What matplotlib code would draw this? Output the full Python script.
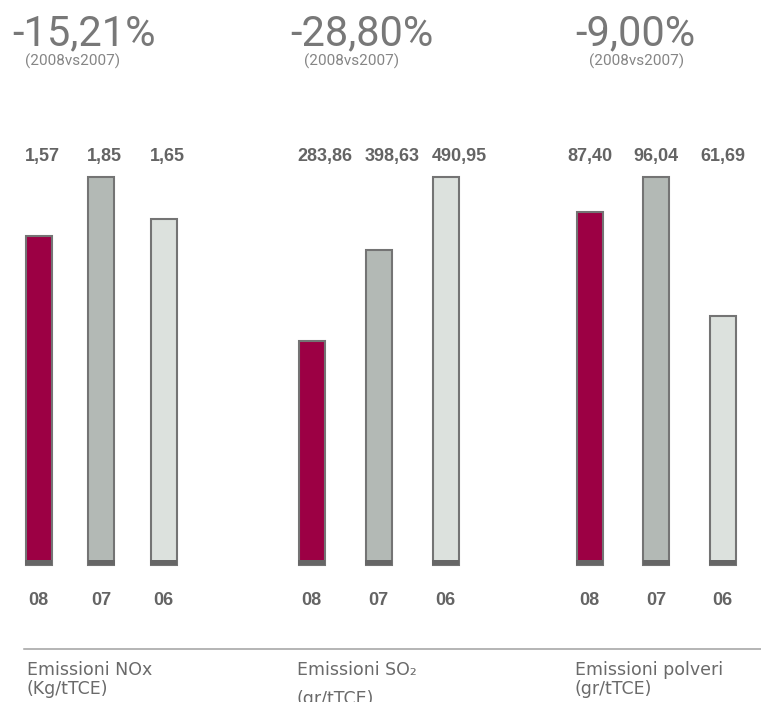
import matplotlib.pyplot as plt
from matplotlib.lines import Line2D
import matplotlib.transforms as mtransforms

years = ['08', '07', '06']
nox = [1.57, 1.85, 1.65]
so2 = [283.86, 398.63, 490.95]
polveri = [87.40, 96.04, 61.69]
changes = ['-15,21%', '-28,80%', '-9,00%']
period = '(2008vs2007)'
titles = ['Emissioni NOx', 'Emissioni SO₂', 'Emissioni polveri']
units = ['(Kg/tTCE)', '(gr/tTCE)', '(gr/tTCE)']

W, H = 761, 702
fig = plt.figure(figsize=(W / 100, H / 100), dpi=100)

bar_colors = ['#9c0044', '#b3b9b5', '#dce1dd']
edge = '#747474'
text_gray = '#646464'


def px(x, y):
    return x / W, 1 - y / H


# panel layout in pixels: left of first bar slot, slot spacing
panels = [(7.5, 62.5), (278, 67), (556.5, 66.5)]
label_ha = ['left', 'left', 'center']
base_y, top_y = 565, 177
unit_y = [694, 704, 694]
bar_w = 26

for i, values in enumerate([nox, so2, polveri]):
    left, step = panels[i]
    ax = fig.add_axes([left / W, 1 - base_y / H, 3 * step / W, (base_y - top_y) / H])
    ax.set_xlim(-0.5, 2.5)
    vmax = max(values)
    ax.set_ylim(0, vmax)
    ax.axis('off')
    xs = range(len(values))
    w = bar_w / step
    ax.bar(xs, values, width=w, color=bar_colors,
           edgecolor=edge, linewidth=1.5, clip_on=False)
    # dark foot under each bar
    foot = vmax * 5 / (base_y - top_y)
    ax.bar(xs, [foot] * 3, width=w + 0.01, color='#666666',
           linewidth=0, clip_on=False)

    trans = mtransforms.blended_transform_factory(ax.transData, ax.transAxes)
    span = base_y - top_y
    for x, v, yr in zip(xs, values, years):
        lx = x - w / 2 - 1 / step if label_ha[i] == 'left' else x
        ax.text(lx, 1 + (top_y - 160.5) / span, f'{v:.2f}'.replace('.', ','),
                transform=trans, ha=label_ha[i], va='baseline',
                fontsize=13, fontweight='bold', color=text_gray,
                family='Liberation Sans')
        ax.text(x, -(605 - base_y) / span, yr, transform=trans,
                ha='center', va='baseline', fontsize=13, fontweight='bold',
                color=text_gray, family='Liberation Sans')

# headers
head_x = [12, 290, 575]
sub_x = [25, 304, 589]
for hx, sx, c in zip(head_x, sub_x, changes):
    fig.text(*px(hx, 45), c, fontsize=30, family='Roboto', fontweight='normal',
             color='#787878', va='baseline')
    fig.text(*px(sx, 65.5), period, fontsize=11, family='Roboto',
             color='#858585', va='baseline')

# bottom rule and captions
fig.add_artist(Line2D([24 / W, 1], [1 - 649 / H] * 2, color='#a0a0a0', lw=1.1))
cap_x = [27, 297, 575]
for cx, t, u, uy in zip(cap_x, titles, units, unit_y):
    fig.text(*px(cx, 675), t, fontsize=12.5, family='DejaVu Sans',
             color='#6a6a6a', va='baseline')
    fig.text(*px(cx, uy), u, fontsize=12.5, family='DejaVu Sans',
             color='#6a6a6a', va='baseline')

fig.savefig('out.png', dpi=100, facecolor='white')
